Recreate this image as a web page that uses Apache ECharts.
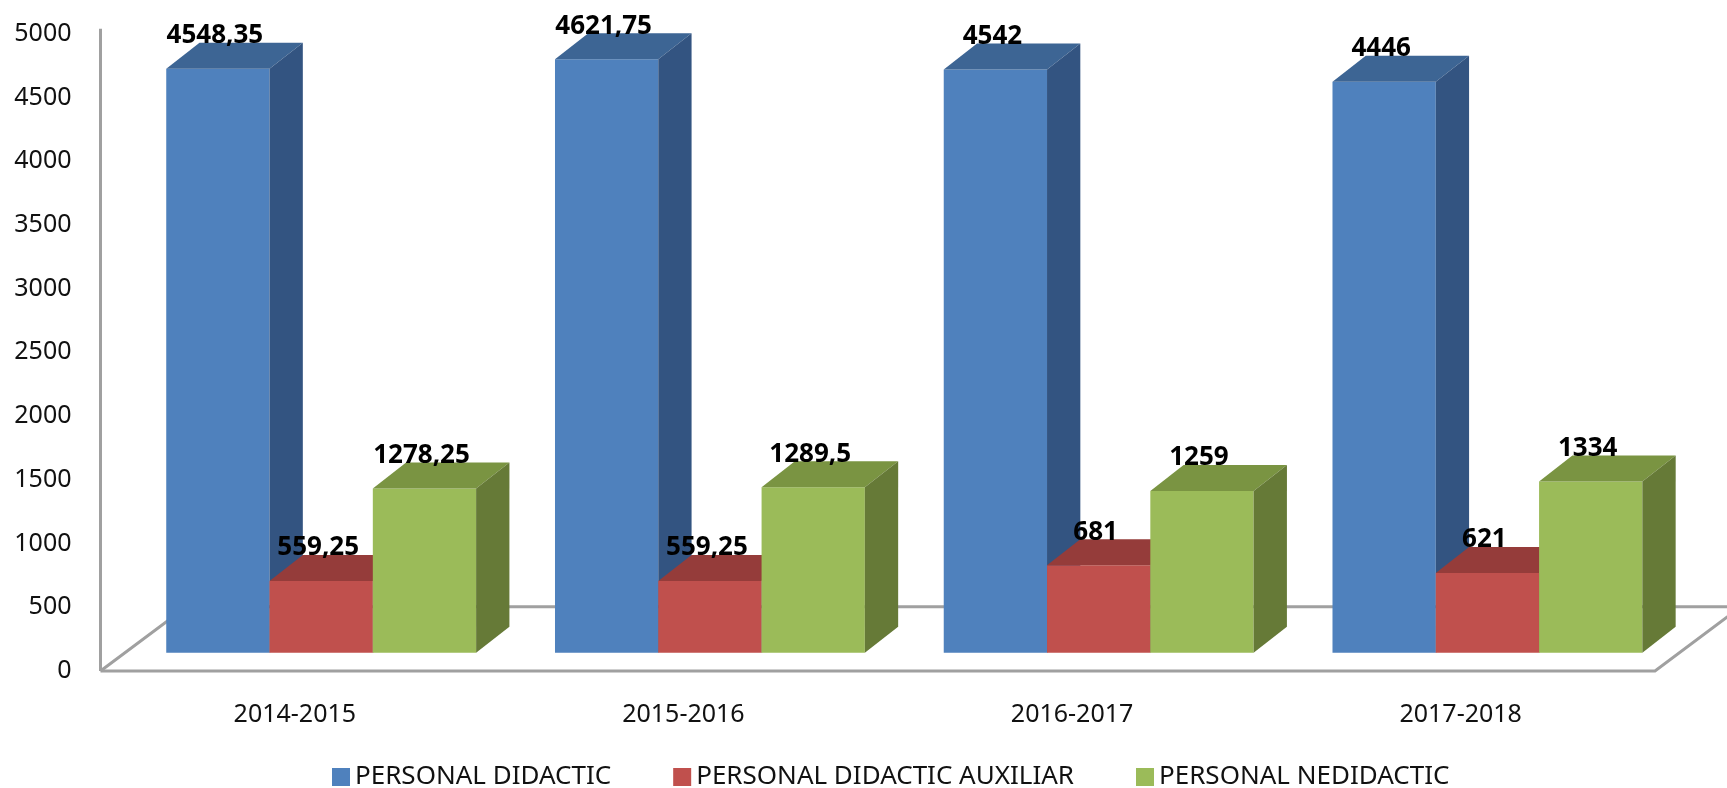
<!DOCTYPE html>
<html>
<head>
<meta charset="utf-8">
<script src="https://cdn.jsdelivr.net/npm/echarts@6/dist/echarts.min.js"></script>
<style>
html,body{margin:0;padding:0;background:#fff;}
#chart{width:1727px;height:788px;}
</style>
</head>
<body>
<div id="chart"></div>
<script>
const categories = ['2014-2015', '2015-2016', '2016-2017', '2017-2018'];
const seriesNames = ['PERSONAL DIDACTIC', 'PERSONAL DIDACTIC AUXILIAR', 'PERSONAL NEDIDACTIC'];
const didactic = [4548.35, 4621.75, 4542, 4446];
const auxiliar = [559.25, 559.25, 681, 621];
const nedidactic = [1278.25, 1289.5, 1259, 1334];
const yTicks = { min: 0, max: 5000, interval: 500 };

const palette = [
  { front: '#4F81BD', top: '#3D6594', side: '#335481' },
  { front: '#C0504D', top: '#953C3A', side: '#7E302E' },
  { front: '#9BBB59', top: '#7A9442', side: '#667A37' }
];
const DX = 33.3, DY = -26;           // bar depth
const FLOOR_DX = 86, FLOOR_DY = -64.3; // floor depth
const BAR_FRAC = 0.2657;
const FONT = '"Noto Sans", "Open Sans", sans-serif';

function fmt(v) { return String(v).replace('.', ','); }

function barRender(si) {
  const c = palette[si];
  return function (params, api) {
    const cat = api.value(0), v = api.value(1);
    const b = api.coord([cat, 0]);
    const t = api.coord([cat, v]);
    const bw = api.size([1, 0])[0];
    const w = bw * BAR_FRAC;
    const x0 = b[0] - 1.5 * w + si * w;
    const yb = b[1], yt = t[1];
    return {
      type: 'group',
      children: [
        { type: 'rect', shape: { x: x0, y: yt, width: w, height: yb - yt }, style: { fill: c.front } },
        { type: 'polygon', shape: { points: [[x0, yt], [x0 + w, yt], [x0 + w + DX, yt + DY], [x0 + DX, yt + DY]] }, style: { fill: c.top } },
        { type: 'polygon', shape: { points: [[x0 + w, yt], [x0 + w + DX, yt + DY], [x0 + w + DX, yb + DY], [x0 + w, yb]] }, style: { fill: c.side } },
        { type: 'text', z2: 50, style: { text: fmt(v), x: x0 + w / 2 - 3, y: yt - 33, align: 'center', verticalAlign: 'middle', font: 'bold 26px ' + FONT, fill: '#000' } }
      ]
    };
  };
}

function floorRender(params, api) {
  const bw = api.size([1, 0])[0];
  const p0 = api.coord([0, 0]);
  const pN = api.coord([categories.length - 1, 0]);
  const top = api.coord([0, yTicks.max]);
  const L = p0[0] - bw / 2, R = pN[0] + bw / 2, y0 = p0[1];
  const ls = { stroke: '#A0A0A0', lineWidth: 3, fill: null };
  return {
    type: 'group',
    children: [
      { type: 'polyline', shape: { points: [[L, y0], [R, y0], [R + FLOOR_DX, y0 + FLOOR_DY]] }, style: ls },
      { type: 'polyline', shape: { points: [[L, y0], [L + FLOOR_DX, y0 + FLOOR_DY], [R + FLOOR_DX + 200, y0 + FLOOR_DY]] }, style: ls },
      { type: 'line', shape: { x1: L, y1: y0, x2: L, y2: top[1] - 5 }, style: ls }
    ]
  };
}

const chart = echarts.init(document.getElementById('chart'));
const dataSets = [didactic, auxiliar, nedidactic];

chart.setOption({
  animation: false,
  color: palette.map(p => p.front),
  textStyle: { fontFamily: FONT },
  grid: [
    { left: 100.5, right: 72, top: 33.7, bottom: 117 },
    { left: 126.8, width: 1555, top: 10.7, bottom: 135.3 }
  ],
  legend: {
    data: seriesNames,
    left: 327, top: 759,
    icon: 'rect', itemWidth: 18, itemHeight: 18, itemGap: 62,
    textStyle: { fontSize: 26, color: '#111', fontFamily: FONT, padding: [0, 0, 0, 0] }
  },
  xAxis: [
    { type: 'category', gridIndex: 0, data: categories, axisLine: { show: false }, axisTick: { show: false },
      axisLabel: { fontSize: 25, color: '#111', margin: 31, fontFamily: FONT } },
    { type: 'category', gridIndex: 1, data: categories, show: false }
  ],
  yAxis: [
    { type: 'value', gridIndex: 0, min: yTicks.min, max: yTicks.max, interval: yTicks.interval,
      axisLine: { show: false }, axisTick: { show: false }, splitLine: { show: false },
      axisLabel: { fontSize: 25, color: '#111', margin: 29, fontFamily: FONT, formatter: v => String(v) } },
    { type: 'value', gridIndex: 1, min: yTicks.min, max: yTicks.max, show: false, splitLine: { show: false } }
  ],
  series: [
    { type: 'custom', name: 'floor', xAxisIndex: 0, yAxisIndex: 0, z: 1, silent: true,
      renderItem: floorRender, data: [[0, 0]] }
  ].concat(dataSets.map((vals, si) => ({
    type: 'custom', name: seriesNames[si], xAxisIndex: 1, yAxisIndex: 1, z: 2,
    itemStyle: { color: palette[si].front },
    renderItem: barRender(si),
    encode: { x: 0, y: 1 },
    data: vals.map((v, i) => [i, v])
  })))
});
</script>
</body>
</html>
